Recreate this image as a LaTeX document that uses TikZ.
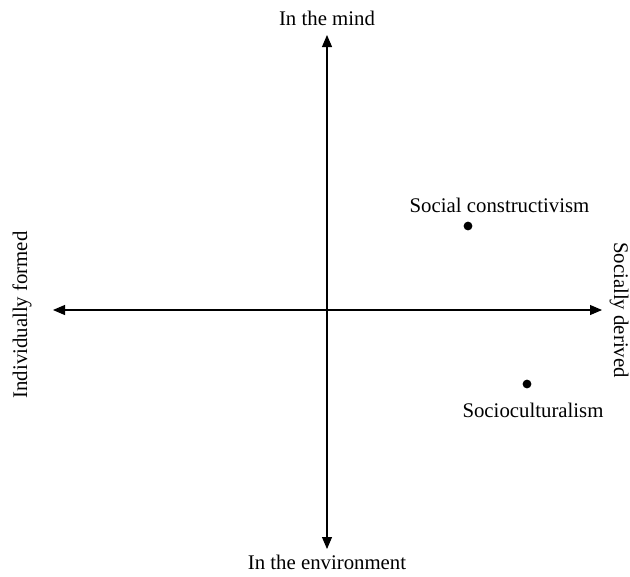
\documentclass[tikz,border=0pt]{standalone}
\usepackage{fontspec}
\setmainfont{Liberation Serif}
\usetikzlibrary{arrows.meta, positioning}

\begin{document}
\begin{tikzpicture}[x=0.75pt, y=-0.75pt,
  lbl/.style={font=\fontsize{15.6}{18}\selectfont, inner sep=0pt},
  pt/.style={circle, fill=black, inner sep=0pt, minimum size=6.6pt},
  ax/.style={{Triangle[length=9pt,width=7.5pt]}-{Triangle[length=9pt,width=7.5pt]}, line width=0.8pt}]
  \useasboundingbox (0,0) rectangle (630,576);
  % axis ends
  \coordinate (top) at (327,35);
  \coordinate (bottom) at (327,549);
  \coordinate (left) at (53,310);
  \coordinate (right) at (602,310);
  \draw[ax] (top) -- (bottom);
  \draw[ax] (left) -- (right);
  % axis labels
  \node[lbl] (mind) at (327,18) {In the mind};
  \node[lbl] (env) at (327,562) {In the environment};
  \node[lbl, rotate=90] (indiv) at (22,315) {Individually formed};
  \node[lbl, rotate=-90] (social) at (619,310) {Socially derived};
  % positions
  \node[pt] (sc) at (468,226) {};
  \node[lbl] (sclbl) at (499.5,205) {Social constructivism};
  \node[pt] (scult) at (527,384) {};
  \node[lbl] (scultlbl) at (533,410) {Socioculturalism};
\end{tikzpicture}
\end{document}
